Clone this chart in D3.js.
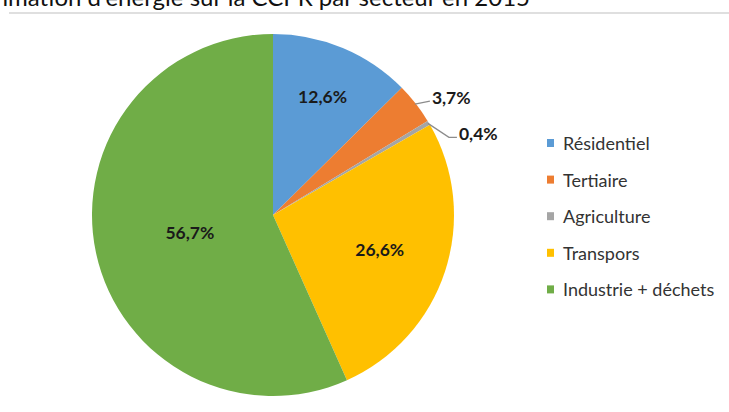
<!DOCTYPE html>
<html>
<head>
<meta charset="utf-8">
<script src="https://cdn.jsdelivr.net/npm/d3@7"></script>
<style>
  html, body { margin: 0; padding: 0; background: #fff; }
  svg { display: block; }
</style>
</head>
<body>
<svg id="chart" width="729" height="412"></svg>
<script>
// Consommation d'énergie par secteur (%), 2015
const sectors = ["Résidentiel", "Tertiaire", "Agriculture", "Transpors", "Industrie + déchets"];
const shares = [12.6, 3.7, 0.4, 26.6, 56.7];
const colors = ["#5B9BD5", "#ED7D31", "#A5A5A5", "#FFC000", "#70AD47"];
const title = "Consommation d'énergie sur la CCPR par secteur en 2015";

const svg = d3.select("#chart");
const W = 729, H = 412;
const cx = 273, cy = 215, R = 181;

// Title (runs past the top-left of the frame) and its underline
svg.append("text")
  .attr("x", 530).attr("y", 6)
  .attr("text-anchor", "end")
  .attr("font-family", "Lato, 'Open Sans', sans-serif")
  .attr("font-size", 24)
  .attr("fill", "#111")
  .text(title);

svg.append("line")
  .attr("x1", 9).attr("x2", W)
  .attr("y1", 13).attr("y2", 13)
  .attr("stroke", "#d4d4d4").attr("stroke-width", 1.5);

const data = sectors.map((s, i) => ({ sector: s, value: shares[i], color: colors[i] }));

const pie = d3.pie().sort(null).value(d => d.value);
const arcs = pie(data);
const arc = d3.arc().innerRadius(0).outerRadius(R);

const g = svg.append("g").attr("transform", `translate(${cx},${cy})`);

g.selectAll("path.slice")
  .data(arcs)
  .join("path")
  .attr("class", "slice")
  .attr("d", arc)
  .attr("fill", d => d.data.color);

const fmt = v => v.toFixed(1).replace(".", ",") + "%";
const labelFont = "Lato, 'Open Sans', sans-serif";

// Inside labels: smaller slices get pushed further out
function labelFrac(v) {
  if (v < 15) return 0.71;
  if (v < 40) return 0.62;
  return 0.47;
}
const point = (angle, r) => [Math.sin(angle) * r, -Math.cos(angle) * r];

const inside = arcs.filter(d => d.data.value >= 5);
g.selectAll("text.inside")
  .data(inside)
  .join("text")
  .attr("class", "inside")
  .attr("x", d => point((d.startAngle + d.endAngle) / 2, R * labelFrac(d.data.value))[0])
  .attr("y", d => point((d.startAngle + d.endAngle) / 2, R * labelFrac(d.data.value))[1])
  .attr("text-anchor", "middle")
  .attr("dominant-baseline", "central")
  .attr("font-family", labelFont)
  .attr("font-weight", "bold")
  .attr("font-size", 17.5)
  .attr("fill", "#1a1a1a")
  .text(d => fmt(d.data.value));

// Outside labels with leader lines for the thin slices
const outside = arcs.filter(d => d.data.value < 5);
const leaderShapes = [
  { elbow: [15, -3], run: 0 },
  { elbow: [21, 14], run: 8 }
];
outside.forEach((d, i) => {
  const mid = (d.startAngle + d.endAngle) / 2;
  const p0 = point(mid, R - 1);
  const shape = leaderShapes[i];
  const p1 = [p0[0] + shape.elbow[0], p0[1] + shape.elbow[1]];
  const p2 = [p1[0] + shape.run, p1[1]];
  g.append("path")
    .attr("d", d3.line()([p0, p1, p2]))
    .attr("fill", "none")
    .attr("stroke", "#8c8c8c")
    .attr("stroke-width", 1.3);
  g.append("text")
    .attr("x", p2[0] + 2)
    .attr("y", p2[1] - 4)
    .attr("dominant-baseline", "central")
    .attr("font-family", labelFont)
    .attr("font-weight", "bold")
    .attr("font-size", 17.5)
    .attr("fill", "#1a1a1a")
    .text(fmt(d.data.value));
});

// Legend
const legend = svg.append("g").attr("transform", "translate(547,143)");
const items = legend.selectAll("g")
  .data(data)
  .join("g")
  .attr("transform", (d, i) => `translate(0,${i * 36.6})`);
items.append("rect")
  .attr("x", 0).attr("y", -4)
  .attr("width", 7).attr("height", 8)
  .attr("fill", d => d.color);
items.append("text")
  .attr("x", 16).attr("y", 0)
  .attr("dominant-baseline", "central")
  .attr("font-family", labelFont)
  .attr("font-size", 18)
  .attr("fill", "#333")
  .text(d => d.sector);
</script>
</body>
</html>
